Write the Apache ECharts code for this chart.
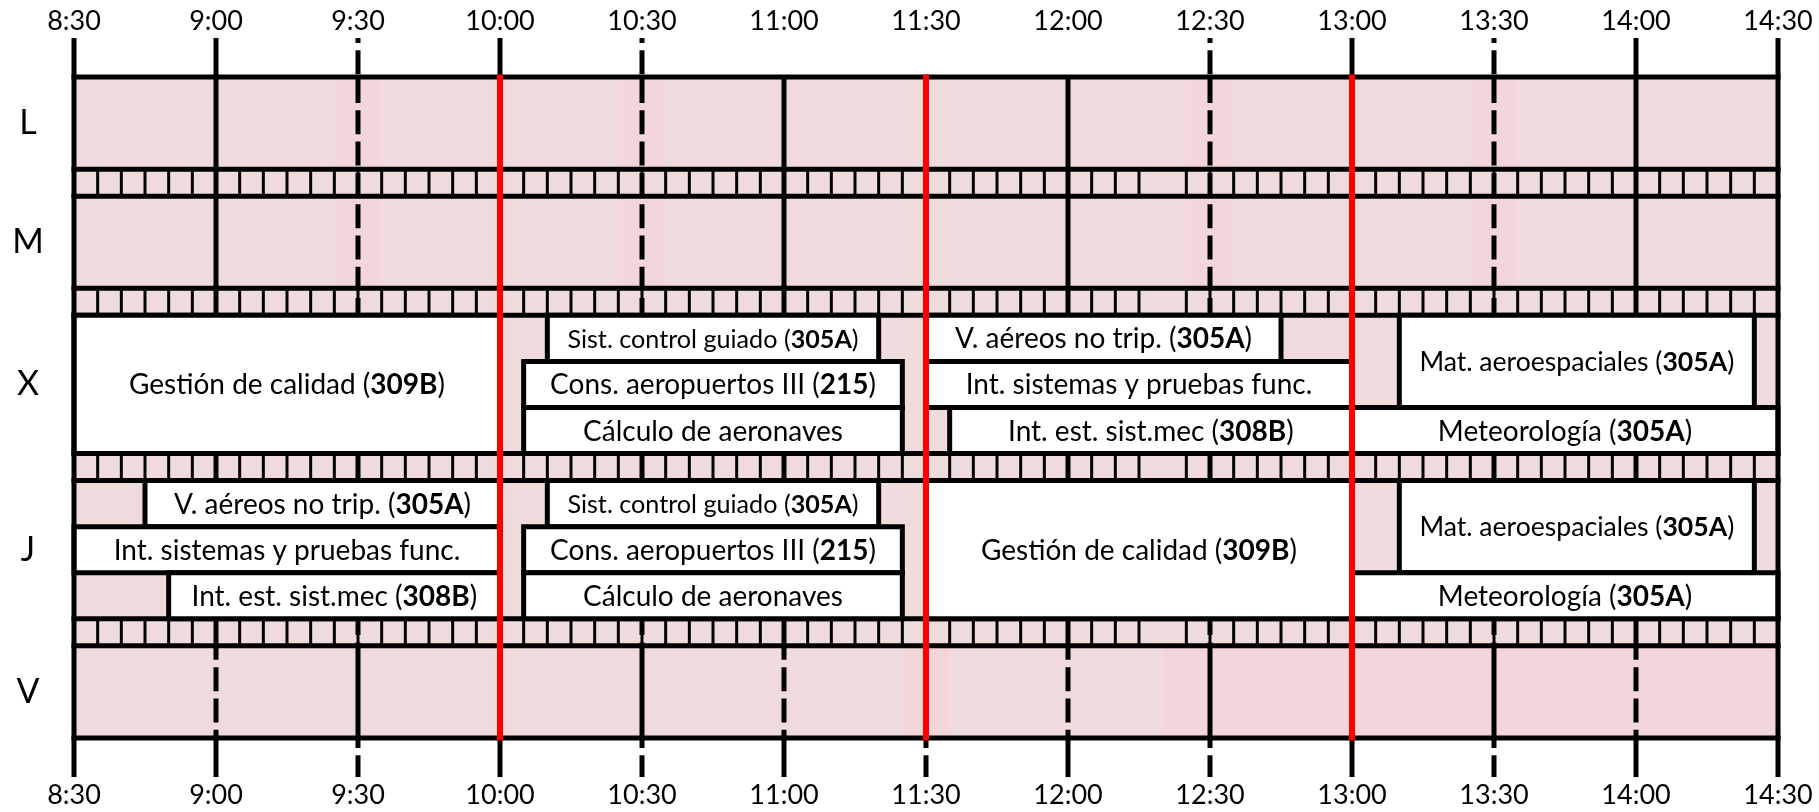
<!DOCTYPE html>
<html><head><meta charset="utf-8">
<script src="https://cdn.jsdelivr.net/npm/echarts@6/dist/echarts.min.js"></script>
<style>html,body{margin:0;padding:0;background:#fff}#c{width:1819px;height:812px}</style>
</head><body><div id="c"></div>
<script>
// ---------------- data ----------------
const days = ['L', 'M', 'X', 'J', 'V'];
const daySlots = [2, 2, 3, 3, 2];            // sub-rows per day
const timeLabels = ['8:30','9:00','9:30','10:00','10:30','11:00','11:30','12:00','12:30','13:00','13:30','14:00','14:30'];
const topTicks    = ['S','S','D','S','D','', '', '', 'D','S','D','S','S'];
const bottomTicks = ['S','S','D','S','D','S','D','S','D','S','D','S','S'];
const redLines = ['10:00', '11:30', '13:00'];
const skippedMarks = ['12:20'];
const lmBands = [['9:25','9:35'], ['10:25','10:35'], ['12:25','12:35'], ['13:25','13:35']];
const vBands = [['11:25','11:35'], ['12:20','14:30']];
// [start, end, first sub-row, last sub-row, subject, room]
const xClasses = [
  ['8:30','10:00',0,2,'Gestión de calidad','309B'],
  ['10:10','11:20',0,0,'Sist. control guiado','305A'],
  ['10:05','11:25',1,1,'Cons. aeropuertos III','215'],
  ['10:05','11:25',2,2,'Cálculo de aeronaves',''],
  ['11:30','12:45',0,0,'V. aéreos no trip.','305A'],
  ['11:30','13:00',1,1,'Int. sistemas y pruebas func.',''],
  ['11:35','13:00',2,2,'Int. est. sist.mec','308B'],
  ['13:10','14:25',0,1,'Mat. aeroespaciales','305A'],
  ['13:00','14:30',2,2,'Meteorología','305A']
];
const jClasses = [
  ['8:45','10:00',0,0,'V. aéreos no trip.','305A'],
  ['8:30','10:00',1,1,'Int. sistemas y pruebas func.',''],
  ['8:50','10:00',2,2,'Int. est. sist.mec','308B'],
  ['10:10','11:20',0,0,'Sist. control guiado','305A'],
  ['10:05','11:25',1,1,'Cons. aeropuertos III','215'],
  ['10:05','11:25',2,2,'Cálculo de aeronaves',''],
  ['11:30','13:00',0,2,'Gestión de calidad','309B'],
  ['13:10','14:25',0,1,'Mat. aeroespaciales','305A'],
  ['13:00','14:30',2,2,'Meteorología','305A']
];

// ---------------- layout helpers ----------------
const FONT = 'Lato';
const BOX_FS = 28;
const toMin = s => { const p = s.split(':').map(Number); return p[0] * 60 + p[1]; };
const X_MIN = toMin(timeLabels[0]), X_MAX = toMin(timeLabels[timeLabels.length - 1]);
const STRIP = 27 / 46;
const TICK = 39 / 46;
const rowTop = [], rowBot = [];
let acc = 0;
daySlots.forEach((n, i) => { rowTop.push(acc); acc += n; rowBot.push(acc); if (i < daySlots.length - 1) acc += STRIP; });
const TOTAL = acc;
const rowMid = rowTop.map((t, i) => (t + rowBot[i]) / 2);

const boxes = [];
[[2, xClasses], [3, jClasses]].forEach(([d, list]) => list.forEach(c => boxes.push({
  s: toMin(c[0]), e: toMin(c[1]), y0: rowTop[d] + c[2], y1: rowTop[d] + c[3] + 1, name: c[4], room: c[5]
})));

const bands = [];
[0, 1].forEach(d => lmBands.forEach(b => bands.push([toMin(b[0]), toMin(b[1]), rowTop[d], rowBot[d]])));
vBands.forEach(b => bands.push([toMin(b[0]), toMin(b[1]), rowTop[4], rowBot[4]]));

const marks = [];
for (let s = 0; s < days.length - 1; s++) {
  for (let m = X_MIN + 5; m < X_MAX; m += 5) {
    if (skippedMarks.map(toMin).includes(m)) continue;
    marks.push([m, rowBot[s], rowTop[s + 1]]);
  }
}

// vertical segments: [minute, y0, y1, dashed, dashOffset]
const vsegs = [];
const redMin = redLines.map(toMin);
timeLabels.forEach((lab, i) => {
  const m = toMin(lab);
  if (m === X_MIN || m === X_MAX) return;
  const isHour = m % 60 === 0;
  if (topTicks[i]) vsegs.push([m, -TICK, 0, topTicks[i] === 'D' ? 1 : 0, 19]);
  if (bottomTicks[i]) vsegs.push([m, TOTAL, TOTAL + TICK, bottomTicks[i] === 'D' ? 1 : 0, 14]);
  if (redMin.includes(m)) return;
  vsegs.push([m, 0, rowTop[4], isHour ? 0 : 1, -2]);
  vsegs.push([m, rowTop[4], TOTAL, isHour ? 1 : 0, 10]);
});

const hlines = [];
days.forEach((d, i) => { hlines.push([rowTop[i]]); hlines.push([rowBot[i]]); });

// text measuring
const cv = document.createElement('canvas').getContext('2d');
function textW(str, fs, bold) { cv.font = (bold ? 'bold ' : '') + fs + 'px ' + FONT; return cv.measureText(str).width; }
function fitSize(b, w) {
  const nat = b.room ? textW(b.name + ' ()', BOX_FS) + textW(b.room, BOX_FS, true) : textW(b.name, BOX_FS);
  const maxW = w - 40;
  return nat > maxW ? BOX_FS * maxW / nat : BOX_FS;
}

const fmtTime = v => timeLabels[Math.round((v - X_MIN) / 30)] || '';
const LW = 5;

const chart = echarts.init(document.getElementById('c'), null, { renderer: 'canvas' });
chart.setOption({
  animation: false,
  backgroundColor: '#fff',
  grid: { left: 74, right: 41, top: 77, bottom: 74, outerBoundsMode: 'none' },
  xAxis: [
    { type: 'value', position: 'top', min: X_MIN, max: X_MAX, interval: 30,
      axisLine: { show: false }, axisTick: { show: false }, splitLine: { show: false },
      axisLabel: { formatter: fmtTime, fontFamily: FONT, fontSize: 27, color: '#000', margin: 42, showMinLabel: true, showMaxLabel: true } },
    { type: 'value', position: 'bottom', min: X_MIN, max: X_MAX, interval: 30,
      axisLine: { show: false }, axisTick: { show: false }, splitLine: { show: false },
      axisLabel: { formatter: fmtTime, fontFamily: FONT, fontSize: 27, color: '#000', margin: 44, showMinLabel: true, showMaxLabel: true } }
  ],
  yAxis: {
    type: 'value', inverse: true, min: 0, max: TOTAL,
    axisLine: { show: false }, axisTick: { show: false }, splitLine: { show: false },
    axisLabel: {
      customValues: rowMid,
      formatter: v => { const i = rowMid.findIndex(c => Math.abs(c - v) < 1e-6); return i >= 0 ? days[i] : ''; },
      fontFamily: FONT, fontSize: 34, color: '#000', align: 'center', margin: 46
    }
  },
  series: [
    { // pink background
      type: 'custom', z: 1, clip: false, silent: true,
      data: [[X_MIN, X_MAX, 0, TOTAL]],
      renderItem: (p, api) => {
        const a = api.coord([api.value(0), api.value(2)]), c = api.coord([api.value(1), api.value(3)]);
        return { type: 'rect', shape: { x: a[0], y: a[1], width: c[0] - a[0], height: c[1] - a[1] }, style: { fill: '#f0dbdc' } };
      }
    },
    { // deeper pink bands
      type: 'custom', z: 2, clip: false, silent: true,
      data: bands,
      renderItem: (p, api) => {
        const a = api.coord([api.value(0), api.value(2)]), c = api.coord([api.value(1), api.value(3)]);
        return { type: 'rect', shape: { x: a[0], y: a[1], width: c[0] - a[0], height: c[1] - a[1] }, style: { fill: '#f3d6d9' } };
      }
    },
    { // 5-minute marks in strips
      type: 'custom', z: 3, clip: false, silent: true,
      data: marks,
      renderItem: (p, api) => {
        const a = api.coord([api.value(0), api.value(1)]), c = api.coord([api.value(0), api.value(2)]);
        return { type: 'line', shape: { x1: a[0], y1: a[1], x2: c[0], y2: c[1] }, style: { stroke: '#000', lineWidth: 3 } };
      }
    },
    { // half-hour lines
      type: 'custom', z: 4, clip: false, silent: true,
      data: vsegs,
      renderItem: (p, api) => {
        const a = api.coord([api.value(0), api.value(1)]), c = api.coord([api.value(0), api.value(2)]);
        const st = { stroke: '#000', lineWidth: LW };
        if (api.value(3)) { st.lineDash = [24, 7.3]; st.lineDashOffset = api.value(4); }
        return { type: 'line', shape: { x1: a[0], y1: a[1], x2: c[0], y2: c[1] }, style: st };
      }
    },
    { // horizontal row borders
      type: 'custom', z: 5, clip: false, silent: true,
      data: hlines,
      renderItem: (p, api) => {
        const a = api.coord([X_MIN, api.value(0)]), c = api.coord([X_MAX, api.value(0)]);
        return { type: 'line', shape: { x1: a[0] - 2.5, y1: a[1], x2: c[0] + 2.5, y2: c[1] }, style: { stroke: '#000', lineWidth: LW } };
      }
    },
    { // class boxes
      type: 'custom', z: 6, clip: false, silent: true,
      data: boxes.map(b => [b.s, b.e, b.y0, b.y1]),
      renderItem: (p, api) => {
        const b = boxes[p.dataIndex];
        const a = api.coord([api.value(0), api.value(2)]), c = api.coord([api.value(1), api.value(3)]);
        const w = c[0] - a[0], h = c[1] - a[1];
        const fs = fitSize(b, w);
        return { type: 'group', children: [
          { type: 'rect', shape: { x: a[0], y: a[1], width: w, height: h }, style: { fill: '#fff', stroke: '#000', lineWidth: LW } },
          { type: 'text', x: a[0] + w / 2, y: a[1] + h / 2 + 1, style: {
              text: b.room ? b.name + ' ({b|' + b.room + '})' : b.name,
              fill: '#000', fontSize: fs, fontFamily: FONT, align: 'center', verticalAlign: 'middle',
              rich: { b: { fontWeight: 'bold', fontSize: fs, fontFamily: FONT, fill: '#000' } } } }
        ] };
      }
    },
    { // red lines
      type: 'custom', z: 7, clip: false, silent: true,
      data: redMin.map(m => [m]),
      renderItem: (p, api) => {
        const a = api.coord([api.value(0), 0]), c = api.coord([api.value(0), TOTAL]);
        return { type: 'line', shape: { x1: a[0], y1: a[1] - 2.5, x2: c[0], y2: c[1] + 2.5 }, style: { stroke: '#ff0000', lineWidth: 6 } };
      }
    },
    { // outer vertical borders
      type: 'custom', z: 8, clip: false, silent: true,
      data: [[X_MIN], [X_MAX]],
      renderItem: (p, api) => {
        const a = api.coord([api.value(0), -TICK]), c = api.coord([api.value(0), TOTAL + TICK]);
        return { type: 'line', shape: { x1: a[0], y1: a[1], x2: c[0], y2: c[1] }, style: { stroke: '#000', lineWidth: LW } };
      }
    }
  ]
});
</script></body></html>
